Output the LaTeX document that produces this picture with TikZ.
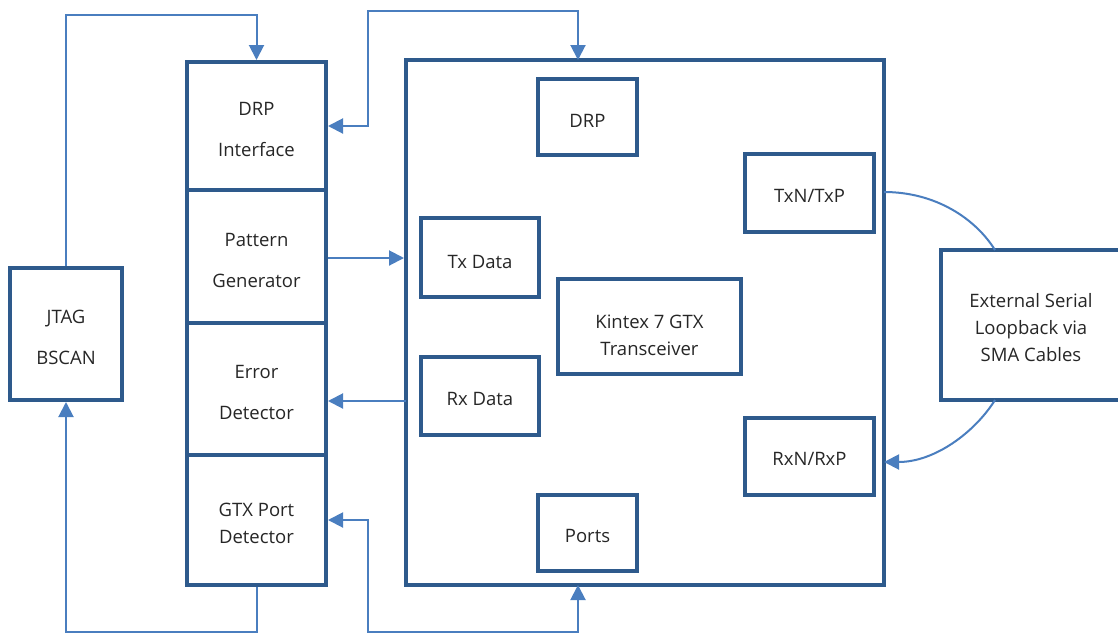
\documentclass[tikz,border=0pt]{standalone}
\usepackage{fontspec}
\setmainfont{Open Sans}
\usetikzlibrary{arrows.meta,calc}
\definecolor{bord}{HTML}{2E5A8C}
\definecolor{conc}{HTML}{4A7EBF}
\definecolor{txt}{HTML}{262626}
\begin{document}
\begin{tikzpicture}[x=1pt,y=-1pt,
  blk/.style={draw=bord,line width=4pt,inner sep=0pt},
  lbl/.style={text=txt,align=center,inner sep=0pt,font=\fontsize{18.5}{27}\selectfont},
  wide/.style={font=\fontsize{18.5}{41}\selectfont},
  conn/.style={draw=conc,line width=2pt,arrows={-Triangle[length=15pt,width=15pt]}},
  bconn/.style={draw=conc,line width=2pt,arrows={Triangle[length=15pt,width=15pt]-Triangle[length=15pt,width=15pt]}}]
\useasboundingbox (0,0) rectangle (1118,635);
% left blocks
\node[blk,minimum width=112pt,minimum height=132pt] (jtag) at (66,334) {};
\node[blk,minimum width=139pt,minimum height=128pt] (drpif) at (256.5,126) {};
\node[blk,minimum width=139pt,minimum height=133pt] (patgen) at (256.5,256.5) {};
\node[blk,minimum width=139pt,minimum height=132pt] (errdet) at (256.5,389) {};
\node[blk,minimum width=139pt,minimum height=130pt] (portdet) at (256.5,520) {};
% transceiver
\node[blk,minimum width=478pt,minimum height=525pt] (gtx) at (645,322.5) {};
\node[blk,minimum width=99pt,minimum height=76pt] (drp) at (587.5,117) {};
\node[blk,minimum width=129pt,minimum height=78pt] (txp) at (809.5,193) {};
\node[blk,minimum width=118pt,minimum height=79pt] (txdata) at (480,257.5) {};
\node[blk,minimum width=183pt,minimum height=95pt] (kintex) at (649.5,326) {};
\node[blk,minimum width=118pt,minimum height=78pt] (rxdata) at (480,396) {};
\node[blk,minimum width=129pt,minimum height=77pt] (rxp) at (809.5,456.5) {};
\node[blk,minimum width=99pt,minimum height=76pt] (ports) at (587.5,533) {};
\node[blk,minimum width=180pt,minimum height=150pt] (ext) at (1031,325) {};
% texts
\node[lbl,wide] (jtagT) at ([yshift=-3pt]jtag.center) {JTAG\\BSCAN};
\node[lbl,wide] (drpifT) at ([yshift=-3pt]drpif.center) {DRP\\Interface};
\node[lbl,wide] (patgenT) at ([yshift=-3.5pt]patgen.center) {Pattern\\Generator};
\node[lbl,wide] (errdetT) at ([yshift=-3pt]errdet.center) {Error\\Detector};
\node[lbl] (portdetT) at ([yshift=-3pt]portdet.center) {GTX Port\\Detector};
\node[lbl] (drpT) at ([yshift=-3.5pt]drp.center) {DRP};
\node[lbl] (txpT) at ([yshift=-2.5pt]txp.center) {TxN/TxP};
\node[lbl] (txdataT) at ([yshift=-4pt]txdata.center) {Tx Data};
\node[lbl] (kintexT) at ([yshift=-9.5pt]kintex.center) {Kintex 7 GTX\\Transceiver};
\node[lbl] (rxdataT) at ([yshift=-3pt]rxdata.center) {Rx Data};
\node[lbl] (rxpT) at ([yshift=-2.5pt]rxp.center) {RxN/RxP};
\node[lbl] (portsT) at ([yshift=-2.5pt]ports.center) {Ports};
\node[lbl] (extT) at ([yshift=-2.5pt]ext.center) {External Serial\\Loopback via\\SMA Cables};
% helper coordinates
\coordinate (topA) at (0,15);
\coordinate (botA) at (0,632);
\coordinate (elbowT) at (368,11);
\coordinate (elbowB) at (368,632);
\coordinate (gtxTop) at (578,60);
\coordinate (gtxBot) at (578,585);
\coordinate (errIn) at (406,401);
\coordinate (extTop) at (995,250);
\coordinate (extBot) at (995,400);
\coordinate (txOut) at (884,192);
\coordinate (rxIn) at (884,462);
% connectors
\draw[conn] (jtag.north) -- (jtag.north |- topA) -- (drpif.north |- topA) -- (drpif.north);
\draw[conn] (portdet.south) -- (portdet.south |- botA) -- (jtag.south |- botA) -- (jtag.south);
\draw[bconn] (drpif.east) -| (elbowT) -| (gtxTop);
\draw[bconn] (portdet.east) -| (elbowB) -| (gtxBot);
\draw[conn] (patgen.east |- 0,258) -- (gtx.west |- 0,258);
\draw[conn] (errIn) -- (errdet.east |- errIn);
\draw[draw=conc,line width=2pt] (txOut) .. controls (935,192) and (975,218) .. (extTop);
\draw[conn] (extBot) .. controls (975,432) and (935,462) .. (rxIn);
\end{tikzpicture}
\end{document}
